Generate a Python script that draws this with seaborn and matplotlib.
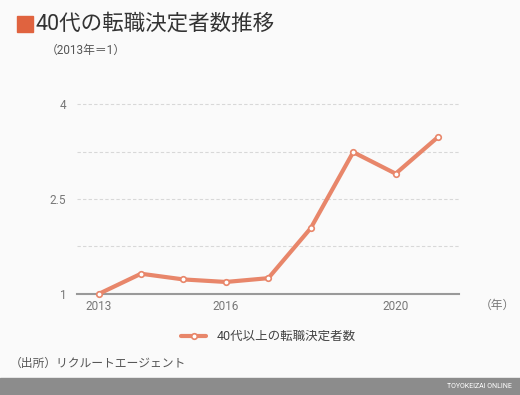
import matplotlib
matplotlib.use('Agg')
import matplotlib.pyplot as plt
import seaborn as sns
import pandas as pd

years = [2013, 2014, 2015, 2016, 2017, 2018, 2019, 2020, 2021]
values = [1.0, 1.32, 1.23, 1.19, 1.25, 2.04, 3.24, 2.90, 3.48]
series_name = '40代以上の転職決定者数'
xtick_labels = {2013: '2013', 2016: '2016', 2020: '2020'}
yticks = [1, 2.5, 4]

sns.set_theme(style='white')
plt.rcParams['font.family'] = ['Roboto', 'Noto Sans CJK JP', 'DejaVu Sans']

bg = '#fafafa'
line_color = '#e8866a'
df = pd.DataFrame({'year': years, 'value': values})

fig = plt.figure(figsize=(5.2, 3.95), dpi=100, facecolor=bg)
ax = fig.add_axes([0.1487, 0.2557, 0.7346, 0.481])
ax.set_facecolor(bg)

# 折线图
sns.lineplot(data=df, x='year', y='value', ax=ax, color=line_color, linewidth=3,
             marker='o', markersize=4, markerfacecolor='white',
             markeredgecolor=line_color, markeredgewidth=1.2,
             label=series_name, clip_on=False, zorder=3)

ax.set_xlim(2012.5, 2021.5)
ax.set_ylim(1, 4)
ax.set_xticks(years)
ax.set_xticklabels([xtick_labels.get(y, '') for y in years])
ax.set_yticks([1, 1.75, 2.5, 3.25, 4])
ax.set_yticklabels([str(v) if v in yticks else '' for v in [1, 1.75, 2.5, 3.25, 4]])
for v in [1.75, 2.5, 3.25, 4]:
    ax.axhline(v, color='#d8d8d8', linestyle=(0, (3, 2)), linewidth=0.8, zorder=1, clip_on=False)
for s in ['top', 'right', 'left']:
    ax.spines[s].set_visible(False)
ax.spines['bottom'].set_color('#999999')
ax.spines['bottom'].set_linewidth(1.5)
ax.tick_params(axis='x', length=8, direction='in', color='#bbbbbb', width=0.8,
               labelsize=8.5, labelcolor='#777777', pad=4)
ax.tick_params(axis='y', length=0, labelsize=8.5, labelcolor='#777777', pad=8)
ax.set_xlabel('')
ax.set_ylabel('')

leg = ax.legend(loc='upper center', bbox_to_anchor=(0.5, -0.13), frameon=False,
                fontsize=9, handlelength=2, labelcolor='#444444')

fig.text(480 / 520, 1 - 305 / 395, '（年）', fontsize=8.5, color='#777777', ha='left', va='center')

# タイトル
fig.patches.append(plt.Rectangle((17 / 520, 1 - 32 / 395), 16 / 520, 16 / 395,
                                 transform=fig.transFigure, color='#e0633f'))
fig.text(36 / 520, 1 - 24 / 395, '40代の転職決定者数推移', fontsize=15.5, color='#333333',
         ha='left', va='center')
fig.text(46 / 520, 1 - 50 / 395, '（2013年＝1）', fontsize=8.5, color='#555555',
         ha='left', va='center')
fig.text(10 / 520, 1 - 363 / 395, '（出所）リクルートエージェント', fontsize=8.5, color='#555555',
         ha='left', va='center')

fig.patches.append(plt.Rectangle((0, 0), 1, 17 / 395, transform=fig.transFigure, color='#8c8c8c'))
fig.text(512 / 520, 8.5 / 395, 'TOYOKEIZAI ONLINE', fontsize=5, color='white',
         ha='right', va='center')

fig.savefig('out.png', dpi=100, facecolor=bg)
